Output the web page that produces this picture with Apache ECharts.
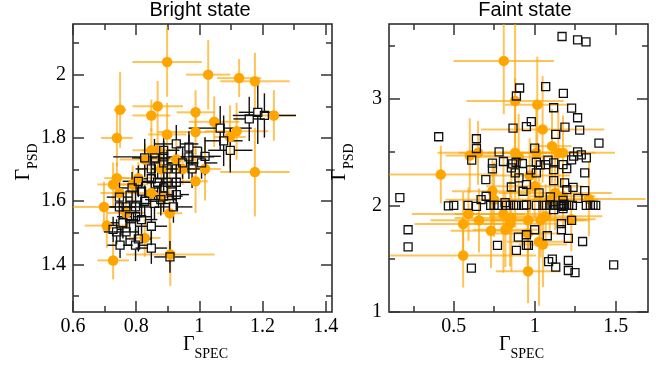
<!DOCTYPE html>
<html>
<head>
<meta charset="utf-8">
<script src="https://cdn.jsdelivr.net/npm/echarts@6/dist/echarts.min.js"></script>
<style>
  html, body { margin: 0; background: #fff; }
  #chart { width: 663px; height: 365px; }
</style>
</head>
<body>
<div id="chart"></div>
<script>
// each point: [gammaSpec, gammaPsd, errSpec, errPsd]
const brightOrange = [
  [0.898, 2.040, 0.11, 0.11], [1.028, 2.000, 0.07, 0.11], [1.126, 1.989, 0.07, 0.06],
  [1.176, 1.979, 0.11, 0.09], [0.749, 1.889, 0.02, 0.12], [0.868, 1.900, 0.08, 0.08],
  [0.848, 1.871, 0.06, 0.05], [0.988, 1.881, 0.06, 0.07], [0.739, 1.800, 0.05, 0.09],
  [0.898, 1.811, 0.06, 0.10], [1.047, 1.851, 0.08, 0.08], [0.988, 1.819, 0.12, 0.07],
  [1.118, 1.821, 0.10, 0.09], [1.097, 1.803, 0.05, 0.10], [1.236, 1.871, 0.07, 0.08],
  [1.176, 1.692, 0.11, 0.14], [1.018, 1.702, 0.05, 0.10], [0.988, 1.663, 0.04, 0.10],
  [0.848, 1.761, 0.06, 0.07], [0.868, 1.761, 0.05, 0.06], [0.828, 1.732, 0.08, 0.05],
  [0.927, 1.732, 0.06, 0.06], [0.947, 1.702, 0.05, 0.05], [0.879, 1.702, 0.07, 0.05],
  [0.807, 1.673, 0.06, 0.05], [0.727, 1.653, 0.05, 0.07], [0.739, 1.673, 0.04, 0.05],
  [0.698, 1.582, 0.10, 0.08], [0.707, 1.523, 0.07, 0.07], [0.727, 1.413, 0.05, 0.06],
  [0.906, 1.562, 0.04, 0.16], [0.908, 1.432, 0.14, 0.10], [0.827, 1.484, 0.05, 0.06],
  [0.768, 1.563, 0.06, 0.05], [0.789, 1.653, 0.05, 0.06], [0.847, 1.626, 0.06, 0.05],
  [0.879, 1.616, 0.05, 0.05], [0.747, 1.626, 0.06, 0.05]
]

const brightSquares = [
  [1.158, 1.860, 0.05, 0.07], [1.185, 1.881, 0.06, 0.10], [1.206, 1.871, 0.10, 0.07],
  [1.066, 1.831, 0.10, 0.07], [1.077, 1.791, 0.06, 0.08], [1.098, 1.761, 0.07, 0.07],
  [1.018, 1.742, 0.05, 0.06], [1.007, 1.721, 0.05, 0.05], [0.927, 1.781, 0.07, 0.06],
  [0.967, 1.771, 0.04, 0.05], [0.967, 1.740, 0.05, 0.07], [0.947, 1.721, 0.05, 0.05],
  [0.977, 1.702, 0.05, 0.06], [0.927, 1.702, 0.06, 0.05], [0.927, 1.660, 0.05, 0.06],
  [0.927, 1.621, 0.04, 0.05], [0.918, 1.582, 0.06, 0.05], [0.907, 1.424, 0.05, 0.05],
  [0.887, 1.761, 0.05, 0.06], [0.887, 1.740, 0.16, 0.05], [0.887, 1.721, 0.05, 0.05],
  [0.898, 1.702, 0.05, 0.06], [0.898, 1.660, 0.05, 0.05], [0.887, 1.642, 0.04, 0.05],
  [0.887, 1.616, 0.06, 0.05], [0.878, 1.605, 0.05, 0.05], [0.858, 1.593, 0.05, 0.05],
  [0.858, 1.737, 0.05, 0.06], [0.827, 1.737, 0.04, 0.06], [0.848, 1.702, 0.05, 0.05],
  [0.848, 1.671, 0.05, 0.05], [0.868, 1.660, 0.05, 0.05], [0.807, 1.663, 0.05, 0.05],
  [0.787, 1.642, 0.04, 0.05], [0.817, 1.632, 0.05, 0.05], [0.827, 1.600, 0.06, 0.05],
  [0.747, 1.613, 0.04, 0.05], [0.747, 1.582, 0.05, 0.04], [0.768, 1.582, 0.05, 0.05],
  [0.798, 1.582, 0.05, 0.05], [0.758, 1.532, 0.04, 0.05], [0.779, 1.551, 0.04, 0.05],
  [0.798, 1.551, 0.05, 0.05], [0.817, 1.542, 0.05, 0.05], [0.768, 1.503, 0.04, 0.04],
  [0.727, 1.511, 0.03, 0.04], [0.738, 1.503, 0.04, 0.04], [0.749, 1.461, 0.04, 0.04],
  [0.798, 1.461, 0.04, 0.05], [0.807, 1.481, 0.04, 0.04], [0.848, 1.521, 0.05, 0.06],
  [0.848, 1.452, 0.05, 0.05]
]

const faintOrange = [
  [0.809, 3.354, 0.31, 0.50], [0.879, 2.978, 0.30, 0.75], [1.016, 2.944, 0.20, 0.45],
  [1.049, 2.712, 0.38, 0.50], [1.107, 2.555, 0.12, 0.35], [0.879, 2.492, 0.35, 0.70],
  [0.901, 2.455, 0.25, 0.40], [1.010, 2.492, 0.30, 0.45], [1.146, 2.492, 0.35, 0.40],
  [1.175, 2.492, 0.20, 0.35], [0.650, 2.492, 0.25, 0.30], [0.599, 2.467, 0.15, 0.35],
  [0.420, 2.288, 0.35, 0.27], [0.739, 2.132, 0.25, 0.30], [0.969, 2.279, 0.25, 0.35],
  [1.000, 2.179, 0.30, 0.30], [0.749, 2.053, 0.30, 0.35], [0.591, 1.918, 0.35, 0.25],
  [0.558, 1.824, 0.30, 0.30], [0.656, 1.859, 0.30, 0.30], [0.730, 1.762, 0.25, 0.35],
  [0.807, 1.918, 0.30, 0.55], [0.856, 1.881, 0.35, 0.50], [0.819, 1.771, 0.20, 0.35],
  [0.848, 1.828, 0.30, 0.40], [0.959, 1.859, 0.35, 0.30], [1.037, 1.859, 0.30, 0.35],
  [1.068, 1.897, 0.35, 0.30], [1.093, 2.053, 0.30, 0.30], [1.126, 2.116, 0.35, 0.35],
  [1.175, 2.085, 0.20, 0.30], [1.335, 2.060, 0.35, 0.35], [0.558, 1.530, 0.45, 0.30],
  [0.959, 1.382, 0.20, 0.30], [1.027, 1.658, 0.20, 0.60], [1.051, 1.633, 0.15, 0.40],
  [0.957, 1.737, 0.20, 0.30], [1.226, 1.870, 0.15, 0.30]
]

const faintSquares = [
  [1.169, 3.583], [1.265, 3.552], [1.317, 3.533],
  [0.907, 3.100], [1.068, 3.113], [1.177, 3.050], [0.887, 3.025],
  [1.117, 2.915], [1.228, 2.912], [1.265, 2.821], [0.979, 2.784], [0.949, 2.737],
  [0.866, 2.724], [1.187, 2.734], [1.278, 2.705],
  [0.407, 2.643], [0.640, 2.624], [0.640, 2.533], [1.130, 2.665], [1.397, 2.583], [1.000, 2.536],
  [0.611, 2.423], [0.780, 2.502], [0.739, 2.395], [0.739, 2.342], [0.807, 2.411], [0.864, 2.389],
  [0.885, 2.404], [0.924, 2.392], [1.010, 2.404], [1.010, 2.304], [0.975, 2.332], [1.035, 2.379],
  [1.068, 2.382], [1.082, 2.423], [1.117, 2.398], [1.117, 2.335], [1.175, 2.382], [1.198, 2.345],
  [1.228, 2.426], [1.241, 2.461], [1.265, 2.502], [1.288, 2.473], [1.319, 2.445], [1.309, 2.304],
  [0.856, 2.351], [0.880, 2.304], [0.903, 2.257], [0.856, 2.172], [0.949, 2.194], [0.928, 2.132],
  [0.698, 2.241], [1.027, 2.116], [1.117, 2.232], [1.185, 2.210], [1.198, 2.147], [1.237, 2.169],
  [1.267, 2.066], [1.309, 2.138], [1.097, 2.080],
  [0.167, 2.072], [0.669, 2.053], [0.700, 2.085], [0.817, 2.025],
  [0.467, 1.995], [0.500, 2.000], [0.588, 2.000], [0.640, 1.990], [0.728, 2.000], [0.749, 2.000],
  [0.770, 2.000], [0.825, 2.000], [0.850, 2.000], [0.870, 2.000], [0.887, 2.000], [0.932, 2.000],
  [0.949, 2.005], [1.010, 2.000], [1.051, 2.000], [1.072, 2.000], [1.093, 2.000], [1.113, 2.000],
  [1.130, 2.000], [1.150, 2.000], [1.165, 2.000], [1.175, 1.990], [1.181, 2.010], [1.196, 2.000],
  [1.210, 2.000], [1.233, 2.000], [1.319, 2.000], [1.344, 2.000], [1.360, 2.000], [1.377, 2.000],
  [1.117, 1.959], [1.175, 2.047], [1.175, 1.970],
  [1.228, 1.859], [1.165, 1.828], [1.165, 1.771], [1.000, 1.771], [0.949, 1.724], [0.899, 1.702],
  [0.949, 1.624], [0.961, 1.624], [1.078, 1.715], [1.208, 1.690], [1.296, 1.661], [0.770, 1.624],
  [0.887, 1.577], [0.218, 1.771], [0.218, 1.611], [0.609, 1.411],
  [1.109, 1.495], [1.086, 1.473], [1.130, 1.420], [1.208, 1.483], [1.208, 1.389], [1.249, 1.370],
  [1.488, 1.442]
]

const brightXMajor = [0.6, 0.8, 1, 1.2, 1.4]
const brightXMinor = [0.7, 0.9, 1.1, 1.3]
const brightYMajor = [1.4, 1.6, 1.8, 2]
const brightYMinor = [1.3, 1.5, 1.7, 1.9, 2.1]
const faintXMajor = [0.5, 1, 1.5]
const faintXMinor = [0.25, 0.75, 1.25]
const faintYMajor = [1, 2, 3]
const faintYMinor = [1.5, 2.5, 3.5]

const serif = '"Liberation Serif", "DejaVu Serif", serif'
const orange = '#ffa500'

const nameRich = {
  g: { fontFamily: serif, fontSize: 20, color: '#000', lineHeight: 20 },
  s: { fontFamily: serif, fontSize: 14, color: '#000', lineHeight: 14, padding: [19, 0, 0, 0] }
}

// major + minor ticks on both sides, labels only on the first one
function axesFor(dim, grid, min, max, major, minor, name) {
  const isX = dim === 'x'
  const sides = isX ? ['bottom', 'top'] : ['left', 'right']
  const out = []
  sides.forEach((pos, i) => {
    [[major, 11], [minor, 6]].forEach(([vals, len], j) => {
      const ax = {
        type: 'value', gridIndex: grid, position: pos, min: min, max: max,
        axisLine: { show: false },
        splitLine: { show: false },
        axisTick: { inside: true, length: len, customValues: vals, lineStyle: { color: '#333', width: 1.5 } },
        axisLabel: { show: false }
      }
      if (i === 0 && j === 0) {
        ax.axisLabel = {
          show: true, customValues: vals, margin: isX ? 5 : 7,
          formatter: v => '{t|' + v + '}',
          rich: { t: { fontFamily: serif, fontSize: 20, color: '#000' } }
        }
        ax.name = name
        ax.nameLocation = 'middle'
        ax.nameMoveOverlap = false
        ax.nameGap = isX ? 23 : 39
        ax.nameRotate = isX ? 0 : 90
        ax.nameTextStyle = { rich: nameRich, padding: isX ? [0, 0, 0, 6] : [0, 0, 0, 12] }
      }
      out.push(ax)
    })
  })
  return out
}

function errorBars(color, width, opacity, gap) {
  return function (params, api) {
    const x = api.value(0), y = api.value(1), ex = api.value(2), ey = api.value(3)
    const cs = params.coordSys
    const c = api.coord([x, y])
    const x0 = Math.max(api.coord([x - ex, y])[0], cs.x)
    const x1 = Math.min(api.coord([x + ex, y])[0], cs.x + cs.width)
    const y0 = Math.max(api.coord([x, y + ey])[1], cs.y)
    const y1 = Math.min(api.coord([x, y - ey])[1], cs.y + cs.height)
    const style = { stroke: color, lineWidth: width, opacity: opacity }
    const seg = (a, b, p, q) => ({ type: 'line', shape: { x1: a, y1: b, x2: p, y2: q }, style: style })
    return {
      type: 'group',
      children: [
        seg(x0, c[1], c[0] - gap, c[1]), seg(c[0] + gap, c[1], x1, c[1]),
        seg(c[0], y0, c[0], c[1] - gap), seg(c[0], c[1] + gap, c[0], y1)
      ]
    }
  }
}

const chart = echarts.init(document.getElementById('chart'))

const titleStyle = { fontFamily: 'Liberation Sans', fontSize: 20, fontWeight: 'normal', color: '#000' }
const gridBase = { top: 24, width: 259, height: 288, show: true, borderColor: '#222', borderWidth: 1.5, containLabel: false, outerBoundsMode: 'none' }

const option = {
  animation: false,
  textStyle: { fontFamily: serif },
  title: [
    { text: 'Bright state', left: 200, top: 0, textAlign: 'center', padding: 0, textStyle: titleStyle },
    { text: 'Faint state', left: 525, top: 0, textAlign: 'center', padding: 0, textStyle: titleStyle }
  ],
  grid: [
    { ...gridBase, left: 73 },
    { ...gridBase, left: 389 }
  ],
  xAxis: [
    ...axesFor('x', 0, 0.6, 1.42, brightXMajor, brightXMinor, '{g|Γ}{s|SPEC}'),
    ...axesFor('x', 1, 0.1, 1.7, faintXMajor, faintXMinor, '{g|Γ}{s|SPEC}')
  ],
  yAxis: [
    ...axesFor('y', 0, 1.25, 2.16, brightYMajor, brightYMinor, '{g|Γ}{s|PSD}'),
    ...axesFor('y', 1, 1, 3.7, faintYMajor, faintYMinor, '{g|Γ}{s|PSD}')
  ],
  series: [
    {
      type: 'custom', xAxisIndex: 0, yAxisIndex: 0, z: 1, silent: true,
      encode: { x: 0, y: 1 }, data: brightOrange,
      renderItem: errorBars(orange, 2, 0.65, 0)
    },
    {
      type: 'custom', xAxisIndex: 0, yAxisIndex: 0, z: 2, silent: true,
      encode: { x: 0, y: 1 }, data: brightSquares,
      renderItem: errorBars('#111', 1.4, 1, 4)
    },
    {
      type: 'scatter', xAxisIndex: 0, yAxisIndex: 0, z: 3, silent: true,
      symbol: 'circle', symbolSize: 10.5,
      itemStyle: { color: orange, opacity: 1 },
      data: brightOrange.map(d => [d[0], d[1]])
    },
    {
      type: 'scatter', xAxisIndex: 0, yAxisIndex: 0, z: 4, silent: true,
      symbol: 'rect', symbolSize: 8,
      itemStyle: { color: 'rgba(0,0,0,0)', borderColor: '#111', borderWidth: 1.3, opacity: 1 },
      data: brightSquares.map(d => [d[0], d[1]])
    },
    {
      type: 'custom', xAxisIndex: 4, yAxisIndex: 4, z: 1, silent: true,
      encode: { x: 0, y: 1 }, data: faintOrange,
      renderItem: errorBars(orange, 2, 0.65, 0)
    },
    {
      type: 'scatter', xAxisIndex: 4, yAxisIndex: 4, z: 3, silent: true,
      symbol: 'circle', symbolSize: 10.5,
      itemStyle: { color: orange, opacity: 1 },
      data: faintOrange.map(d => [d[0], d[1]])
    },
    {
      type: 'scatter', xAxisIndex: 4, yAxisIndex: 4, z: 4, silent: true,
      symbol: 'rect', symbolSize: 8,
      itemStyle: { color: 'rgba(0,0,0,0)', borderColor: '#111', borderWidth: 1.3, opacity: 1 },
      data: faintSquares
    }
  ]
}

chart.setOption(option)
</script>
</body>
</html>
